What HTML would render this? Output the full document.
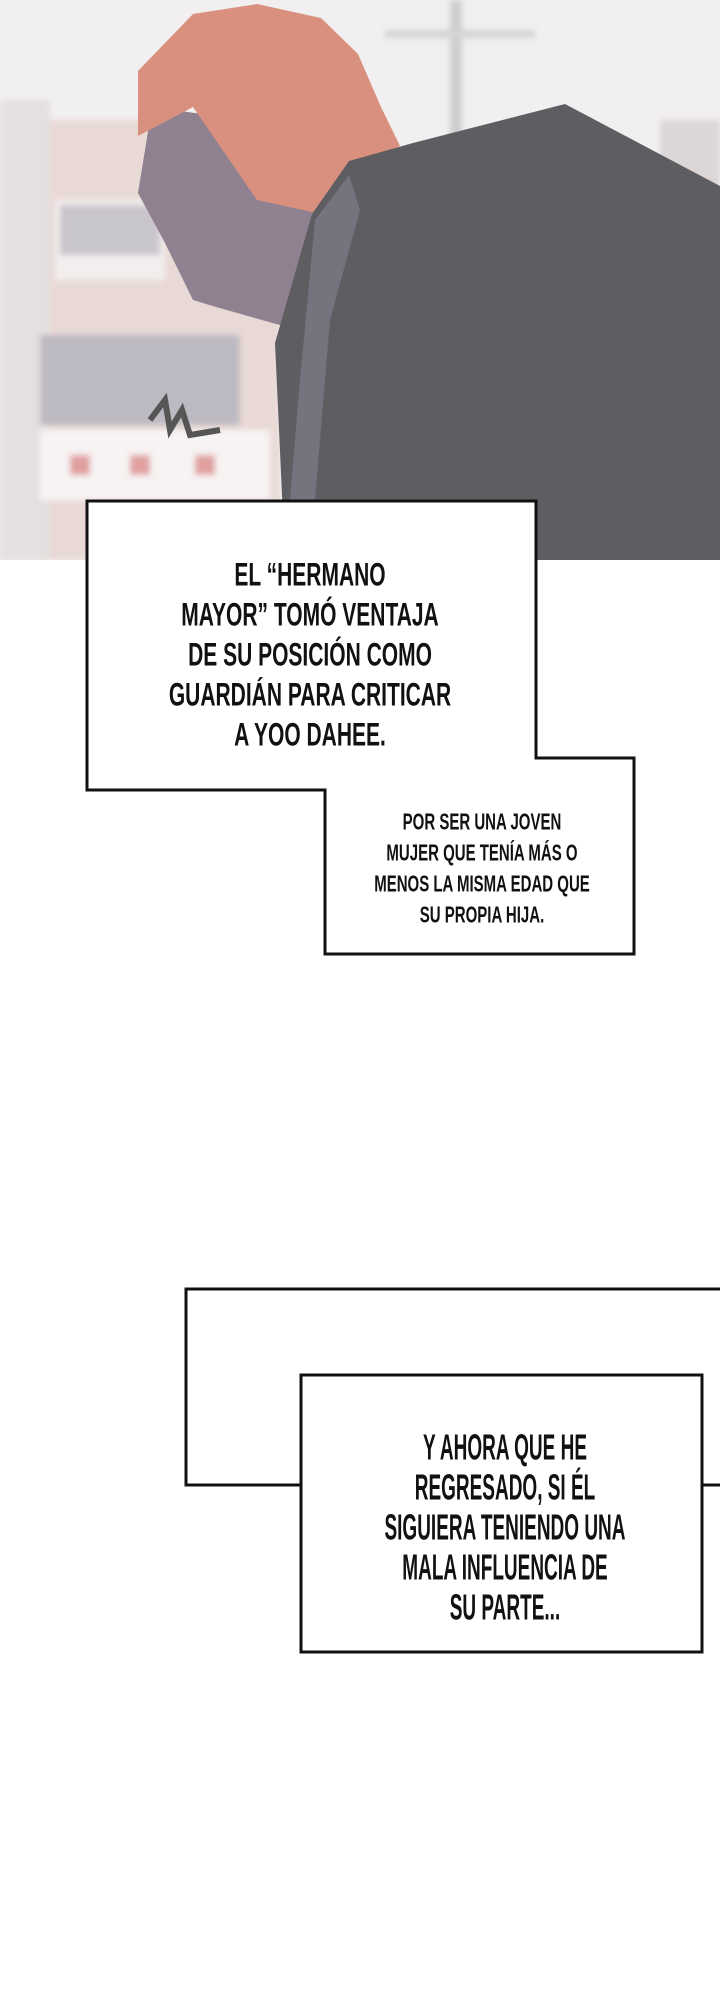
<!DOCTYPE html>
<html><head><meta charset="utf-8"><style>
html,body{margin:0;padding:0;background:#fff;}
body{width:720px;height:1995px;position:relative;overflow:hidden;font-family:"Liberation Sans",sans-serif;}
.t{position:absolute;text-align:center;color:#111;font-weight:bold;white-space:nowrap;}
.t div{transform:scaleY(1.55);}
</style></head><body>
<svg width="720" height="560" style="position:absolute;left:0;top:0" viewBox="0 0 720 560">
<defs><filter id="b"><feGaussianBlur stdDeviation="3"/></filter></defs>
<rect width="720" height="560" fill="#f1efef"/>
<g filter="url(#b)">
<rect x="20" y="120" width="260" height="440" fill="#e9d9d6"/>
<rect x="0" y="100" width="50" height="460" fill="#e4e0e0"/>
<rect x="55" y="200" width="110" height="80" fill="#f3eeee"/>
<rect x="60" y="205" width="100" height="50" fill="#c9c5cc"/>
<rect x="40" y="335" width="200" height="90" fill="#bdb9c2"/>
<rect x="40" y="430" width="230" height="70" fill="#f7f3f3"/>
<rect x="70" y="455" width="20" height="20" fill="#e0a0a0"/>
<rect x="130" y="455" width="20" height="20" fill="#e0a0a0"/>
<rect x="195" y="455" width="20" height="20" fill="#e0a0a0"/>
<rect x="450" y="0" width="12" height="140" fill="#cfcdcd"/>
<rect x="385" y="30" width="150" height="8" fill="#d5d3d3"/>
<rect x="660" y="120" width="60" height="120" fill="#ddd6d6"/>
</g>
<polygon points="152,107 138,193 165,243 193,300 216,307 294,329 331,171 202,114" fill="#908191"/>
<polygon points="138,71 193,14 257,4 321,18 358,54 381,107 400,146 349,171 321,214 257,200 193,107 138,136" fill="#d9907f"/>
<polygon points="275,343 312,214 349,161 413,143 565,104 720,186 720,560 285,560" fill="#5e5e62"/>
<polygon points="300,380 315,220 349,175 360,210 330,320 310,560 285,560" fill="#76727e"/>
<path d="M150 420 l15 -20 l5 30 l12 -20 l8 25 l30 -5" stroke="#555" stroke-width="6" fill="none"/>
</svg>
<svg width="720" height="1995" style="position:absolute;left:0;top:0">
<path d="M87 501 H536 V758 H634 V954 H325 V790 H87 Z" fill="#fff" stroke="#111" stroke-width="3"/>
<rect x="186" y="1289" width="540" height="196" fill="#fff" stroke="#111" stroke-width="3"/>
<rect x="301" y="1375" width="401" height="277" fill="#fff" stroke="#111" stroke-width="3"/>
</svg>
<div class="t" style="left:110px;width:400px;top:556px;font-size:21px;line-height:40px;">
<div>EL “HERMANO</div><div>MAYOR” TOMÓ VENTAJA</div><div>DE SU POSICIÓN COMO</div><div>GUARDIÁN PARA CRITICAR</div><div>A YOO DAHEE.</div></div>
<div class="t" style="left:342px;width:280px;top:807px;font-size:15px;line-height:31px;">
<div>POR SER UNA JOVEN</div><div>MUJER QUE TENÍA MÁS O</div><div>MENOS LA MISMA EDAD QUE</div><div>SU PROPIA HIJA.</div></div>
<div class="t" style="left:305px;width:400px;top:1430px;font-size:19px;line-height:40px;font-weight:bold;">
<div style="transform:scaleY(1.9)">Y AHORA QUE HE</div><div style="transform:scaleY(1.9)">REGRESADO, SI ÉL</div><div style="transform:scaleY(1.9)">SIGUIERA TENIENDO UNA</div><div style="transform:scaleY(1.9)">MALA INFLUENCIA DE</div><div style="transform:scaleY(1.9)">SU PARTE...</div></div>
</body></html>
